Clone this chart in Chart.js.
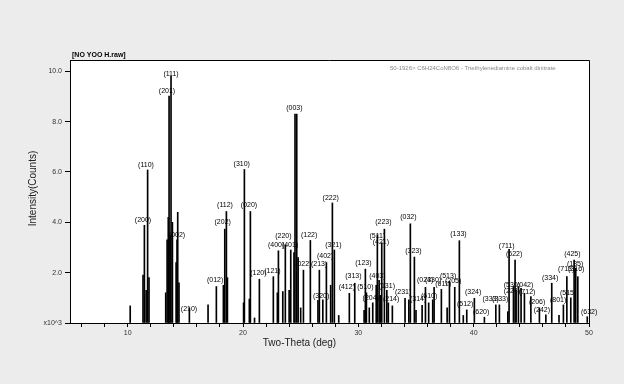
<!DOCTYPE html>
<html>
<head>
<meta charset="utf-8">
<script src="https://cdn.jsdelivr.net/npm/chart.js@4"></script>
<style>
  html, body { margin: 0; padding: 0; background: #ececec; }
  #wrap { width: 624px; height: 384px; }
</style>
</head>
<body>
<div id="wrap"><canvas id="xrd" width="624" height="384"></canvas></div>
<script>
// Peak positions (2-theta, deg) and intensities (x10^3 counts)
const peakTheta = [
  10.22, 11.33, 11.45, 11.60, 11.73, 11.85, 13.30, 13.42, 13.52, 13.59,
  13.68, 13.76, 13.88, 14.20, 14.28, 14.34, 14.45, 15.35, 16.97, 17.69,
  18.30, 18.42, 18.56, 18.65, 20.05, 20.12, 20.55, 20.64, 21.00, 21.42,
  22.63, 22.98, 23.07, 23.45, 23.67, 24.00, 24.14, 24.42, 24.51, 24.66,
  24.78, 25.00, 25.24, 25.84, 26.50, 26.62, 26.92, 27.23, 27.60, 27.75,
  27.92, 28.30, 29.22, 29.69, 30.50, 30.61, 30.70, 30.95, 31.25, 31.55,
  31.65, 31.80, 31.90, 32.03, 32.26, 32.47, 32.60, 32.95, 34.05, 34.38,
  34.51, 34.86, 35.00, 35.53, 35.82, 36.10, 36.45, 36.57, 37.20, 37.70,
  37.90, 38.36, 38.76, 39.10, 39.40, 40.06, 40.93, 41.92, 42.23, 42.96,
  43.07, 43.45, 43.59, 43.68, 43.88, 44.11, 44.40, 44.96, 45.70, 46.26,
  46.77, 47.40, 47.78, 48.08, 48.42, 48.71, 48.85, 49.03, 49.85
];
const peakCounts = [
  0.68, 1.90, 3.88, 1.30, 6.08, 1.80, 1.20, 3.30, 4.20, 9.02,
  3.50, 9.80, 4.00, 2.40, 3.30, 4.40, 1.60, 0.60, 0.72, 1.45,
  1.50, 3.73, 4.43, 1.80, 0.80, 6.10, 0.95, 4.43, 0.20, 1.74,
  1.84, 1.20, 2.87, 1.25, 3.10, 1.30, 2.90, 2.80, 8.30, 8.30,
  2.60, 0.60, 2.10, 3.28, 0.90, 2.10, 0.92, 2.40, 1.50, 4.77,
  2.90, 0.30, 1.18, 1.58, 0.50, 2.14, 1.20, 0.60, 0.80, 1.50,
  3.50, 1.70, 1.10, 3.19, 3.73, 1.30, 0.80, 0.68, 0.98, 0.92,
  3.94, 2.62, 0.50, 0.70, 1.42, 0.80, 0.92, 1.42, 1.34, 0.60,
  1.65, 1.42, 3.27, 0.30, 0.52, 0.98, 0.23, 0.72, 0.72, 0.45,
  2.93, 1.45, 2.50, 1.30, 1.45, 1.38, 1.18, 1.05, 0.60, 0.32,
  1.58, 0.30, 0.72, 1.84, 1.00, 2.50, 2.18, 1.84, 0.25
];

// Reflection labels (hkl), where they sit (2-theta, x10^3 counts)
const hkl = [
  '(200)', '(110)', '(201)', '(111)', '(002)', '(210)', '(012)', '(202)', '(112)', '(310)',
  '(020)', '(120)', '(121)', '(400)', '(220)', '(401)', '(003)', '(022)', '(122)', '(213)',
  '(320)', '(402)', '(222)', '(321)', '(412)', '(313)', '(123)', '(510)', '(204)', '(403)',
  '(511)', '(421)', '(223)', '(131)', '(214)', '(231)', '(032)', '(323)', '(314)', '(024)',
  '(610)', '(330)', '(611)', '(513)', '(205)', '(133)', '(512)', '(324)', '(620)', '(333)',
  '(333)', '(711)', '(622)', '(530)', '(042)', '(224)', '(712)', '(206)', '(242)', '(334)',
  '(801)', '(713)', '(316)', '(515)', '(425)', '(135)', '(632)'
];
const hklTheta = [
  11.33, 11.59, 13.41, 13.76, 14.28, 15.32, 17.58, 18.24, 18.44, 19.89,
  20.52, 21.33, 22.55, 22.87, 23.50, 24.08, 24.45, 25.23, 25.73, 26.60,
  26.77, 27.12, 27.61, 27.84, 29.00, 29.57, 30.44, 30.61, 31.08, 31.65,
  31.65, 31.95, 32.17, 32.47, 32.84, 33.88, 34.34, 34.77, 35.18, 35.79,
  36.14, 36.48, 37.35, 37.78, 38.22, 38.68, 39.26, 39.95, 40.65, 41.47,
  42.29, 42.87, 43.51, 43.31, 44.46, 43.31, 44.64, 45.50, 45.91, 46.63,
  47.32, 48.02, 48.89, 48.19, 48.56, 48.80, 50.01
];
const hklLevel = [
  4.10, 6.29, 9.20, 9.88, 3.51, 0.56, 1.69, 4.00, 4.67, 6.31,
  4.67, 1.98, 2.07, 3.10, 3.44, 3.10, 8.53, 2.36, 3.51, 2.36,
  1.09, 2.64, 4.97, 3.11, 1.41, 1.88, 2.38, 1.41, 0.98, 1.88,
  3.44, 3.21, 4.00, 1.47, 0.94, 1.21, 4.21, 2.84, 0.96, 1.71,
  1.08, 1.71, 1.55, 1.87, 1.67, 3.53, 0.76, 1.24, 0.44, 0.96,
  0.96, 3.07, 2.75, 1.51, 1.51, 1.25, 1.24, 0.84, 0.52, 1.79,
  0.92, 2.15, 2.15, 1.20, 2.75, 2.35, 0.44
];

const xTickValues = [6, 8, 10, 12, 14, 16, 18, 20, 22, 24, 26, 28, 30, 32, 34, 36, 38, 40, 42, 44, 46, 48, 50];
const xTickLabels = ['', '', '10', '', '', '', '', '20', '', '', '', '', '30', '', '', '', '', '40', '', '', '', '', '50'];
const yTickValues = [0, 2, 4, 6, 8, 10];
const yTickLabels = ['x10^3', '2.0', '4.0', '6.0', '8.0', '10.0'];

const fileName = '[NO YOO H.raw]';
const cardText = '50-1926> C6H24CoN8O6 - Triethylenediamine cobalt dinitrate';
const xTitle = 'Two-Theta (deg)';
const yTitle = 'Intensity(Counts)';

// Frame, backgrounds, hkl labels and titles
const decor = {
  id: 'decor',
  beforeDraw(chart) {
    const { ctx, chartArea: a } = chart;
    ctx.save();
    ctx.fillStyle = '#ececec';
    ctx.fillRect(0, 0, chart.width, chart.height);
    ctx.fillStyle = '#ffffff';
    ctx.fillRect(a.left, a.top, a.right - a.left, a.bottom - a.top);
    ctx.restore();
  },
  afterDraw(chart) {
    const { ctx, chartArea: a } = chart;
    const xs = chart.scales.x, ys = chart.scales.y;
    ctx.save();
    ctx.strokeStyle = '#000';
    ctx.lineWidth = 1;
    ctx.beginPath();
    ctx.moveTo(a.left, a.top + 0.5);
    ctx.lineTo(a.right + 0.5, a.top + 0.5);
    ctx.lineTo(a.right + 0.5, a.bottom);
    ctx.stroke();

    ctx.fillStyle = '#000';
    ctx.font = '7px "Liberation Sans", Arial, sans-serif';
    ctx.textAlign = 'center';
    ctx.textBaseline = 'middle';
    hkl.forEach((t, i) => {
      ctx.fillText(t, xs.getPixelForValue(hklTheta[i]), ys.getPixelForValue(hklLevel[i]));
    });

    ctx.font = 'bold 7px "Liberation Sans", Arial, sans-serif';
    ctx.textAlign = 'left';
    ctx.fillText(fileName, a.left + 2, a.top - 5);

    ctx.fillStyle = '#888';
    ctx.font = '6px "Liberation Sans", Arial, sans-serif';
    ctx.fillText(cardText, 390, a.top + 8);

    ctx.fillStyle = '#222';
    ctx.font = '10px "Liberation Sans", Arial, sans-serif';
    ctx.textAlign = 'center';
    ctx.fillText(xTitle, (a.left + a.right) / 2 - 30, a.bottom + 20);

    ctx.translate(33, (a.top + a.bottom) / 2 - 3);
    ctx.rotate(-Math.PI / 2);
    ctx.fillText(yTitle, 0, 0);
    ctx.restore();
  }
};

const ctx = document.getElementById('xrd').getContext('2d');
new Chart(ctx, {
  type: 'bar',
  data: {
    datasets: [{
      data: peakTheta.map((t, i) => ({ x: t, y: peakCounts[i] })),
      backgroundColor: '#000',
      borderWidth: 0,
      barThickness: 1
    }]
  },
  options: {
    responsive: false,
    animation: false,
    layout: { padding: { left: 0, right: 35, top: 60, bottom: 0 } },
    plugins: { legend: { display: false }, tooltip: { enabled: false } },
    scales: {
      x: {
        type: 'linear',
        min: 5,
        max: 50,
        offset: false,
        afterBuildTicks: s => { s.ticks = xTickValues.map(v => ({ value: v })); },
        afterFit: s => { s.height = 61; },
        ticks: {
          autoSkip: false,
          maxRotation: 0,
          padding: 2,
          color: '#333',
          font: { size: 7, family: '"Liberation Sans", Arial, sans-serif' },
          callback: v => xTickLabels[xTickValues.indexOf(v)]
        },
        grid: { offset: false, drawOnChartArea: false, drawTicks: true, tickLength: 4, color: '#000' },
        border: { display: true, color: '#000', width: 1 }
      },
      y: {
        min: 0,
        max: 10.45,
        afterBuildTicks: s => { s.ticks = yTickValues.map(v => ({ value: v })); },
        afterFit: s => { s.width = 70; },
        ticks: {
          padding: 3,
          color: '#333',
          font: { size: 7, family: '"Liberation Sans", Arial, sans-serif' },
          callback: v => yTickLabels[yTickValues.indexOf(v)]
        },
        grid: { drawOnChartArea: false, drawTicks: true, tickLength: 5, color: '#000' },
        border: { display: true, color: '#000', width: 1 }
      }
    }
  },
  plugins: [decor]
});
</script>
</body>
</html>
